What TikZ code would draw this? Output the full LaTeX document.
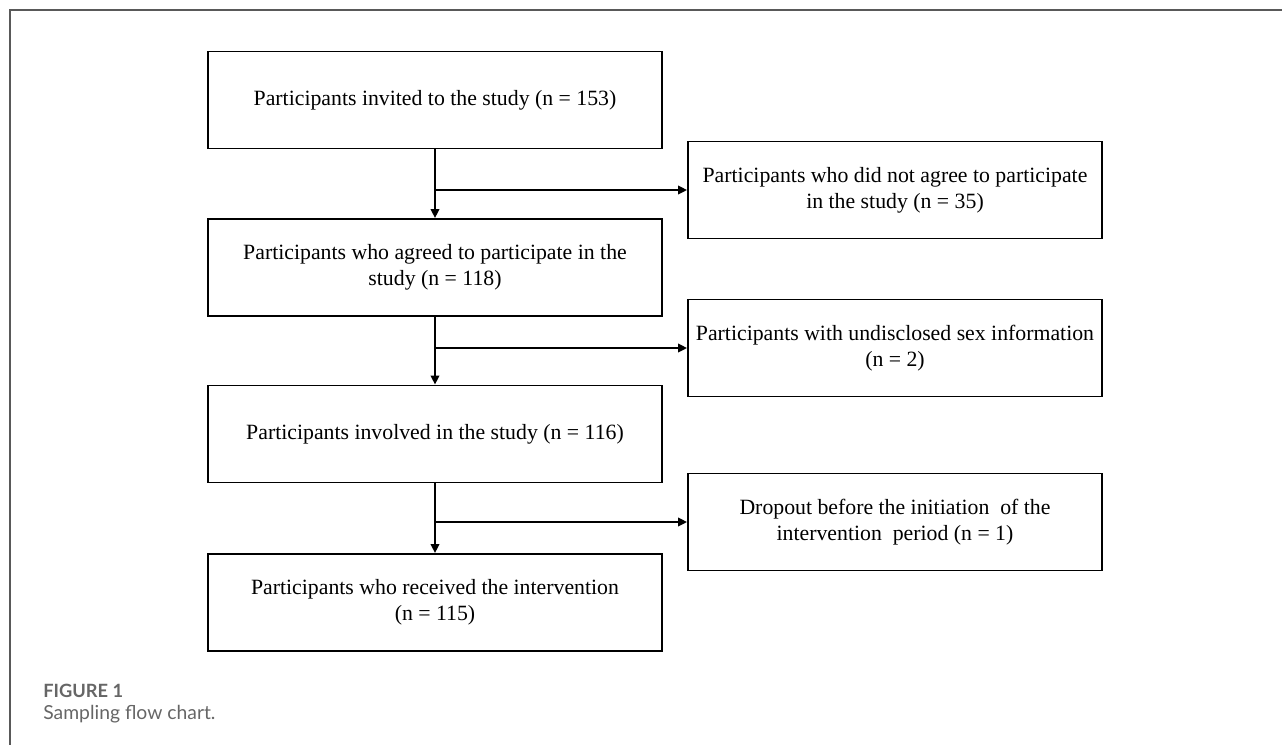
\documentclass[tikz,border=0pt]{standalone}
\usepackage{fontspec}
\setmainfont{Liberation Serif}
\newfontfamily\capfont{Lato}
\usetikzlibrary{arrows.meta}
\begin{document}
\begin{tikzpicture}[
    x=0.02cm, y=-0.02cm,
    >={Triangle[length=1.8mm, width=1.7mm]},
    every node/.style={font=\fontsize{12.4}{14.8}\selectfont},
    stage/.style={
        draw,
        line width=1.1pt,
        align=center,
        minimum width=9.08cm,
        minimum height=1.94cm
    },
    excl/.style={
        draw,
        line width=1.1pt,
        align=center,
        minimum width=8.28cm,
        minimum height=1.94cm
    },
    arr/.style={->, line width=1.1pt}
]
    \useasboundingbox (0,0) rectangle (1282,745);

    % Frame
    \draw[black!65, line width=0.7pt] (1282,10) -- (10,10) -- (10,745);

    % Main boxes
    \node[stage] (invited) at (435,100) {Participants invited to the study (n = 153)};
    \node[stage] (agreed) at (435,267.5) {Participants who agreed to participate in the\\ study (n = 118)};
    \node[stage] (involved) at (435,434) {Participants involved in the study (n = 116)};
    \node[stage] (received) at (435,602.5) {Participants who received the intervention\\ (n = 115)};

    % Exclusions
    \node[excl] (notagreed) at (895,190) {Participants who did not agree to participate\\ in the study (n = 35)};
    \node[excl] (undisclosed) at (895,348) {Participants with undisclosed sex information\\ (n = 2)};
    \node[excl] (dropout) at (895,522) {Dropout before the initiation\ \ of the\\ intervention\ \ period (n = 1)};

    % Arrows
    \draw[arr] (invited) -- (agreed);
    \draw[arr] (agreed) -- (involved);
    \draw[arr] (involved) -- (received);
    \draw[arr] (invited.south |- notagreed) -- (notagreed);
    \draw[arr] (agreed.south |- undisclosed) -- (undisclosed);
    \draw[arr] (involved.south |- dropout) -- (dropout);

    % Caption
    \node[anchor=base west, inner sep=0pt, text=black!60, font=\capfont\bfseries\fontsize{10.4}{12}\selectfont] (figlabel) at (43,697) {FIGURE 1};
    \node[anchor=base west, inner sep=0pt, text=black!60, font=\capfont\fontsize{11}{13}\selectfont] (figtitle) at (43,719) {Sampling flow chart.};
\end{tikzpicture}
\end{document}
